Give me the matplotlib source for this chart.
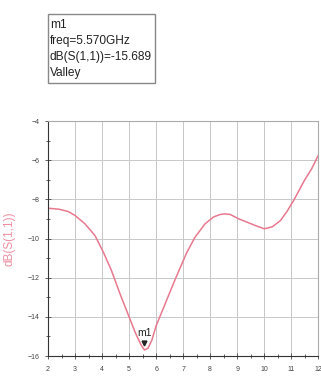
import matplotlib
matplotlib.use("Agg")
import matplotlib.pyplot as plt
from matplotlib.ticker import MultipleLocator
from matplotlib.patches import Rectangle

freq = [2.0, 2.4, 2.75, 3.0, 3.37, 3.74, 4.05, 4.35, 4.67, 5.0, 5.25, 5.45, 5.57,
        5.7, 5.84, 6.0, 6.33, 6.64, 6.95, 7.14, 7.44, 7.81, 8.12, 8.37, 8.55, 8.74,
        9.05, 9.36, 9.7, 10.0, 10.3, 10.6, 10.85, 11.09, 11.5, 11.75, 12.0]
s11_db = [-8.45, -8.5, -8.62, -8.82, -9.25, -9.85, -10.7, -11.64, -12.84, -14.0,
          -14.87, -15.45, -15.69, -15.6, -15.2, -14.46, -13.35, -12.3, -11.3, -10.7,
          -9.93, -9.25, -8.9, -8.77, -8.74, -8.77, -8.99, -9.16, -9.35, -9.5, -9.4,
          -9.08, -8.6, -8.05, -7.0, -6.45, -5.75]

marker_name = "m1"
marker_freq = 5.57
marker_db = -15.689
marker_text = ["m1", "freq=5.570GHz", "dB(S(1,1))=-15.689", "Valley"]

plt.rcParams['font.family'] = ['Liberation Sans', 'DejaVu Sans']

fig = plt.figure(figsize=(3.21, 3.82), dpi=100)
ax = fig.add_axes([0.1495, 0.068, 0.842, 0.615])

line_color = '#e8788e'
ax.plot(freq, s11_db, color=line_color, lw=1.1)

ax.set_xlim(2, 12)
ax.set_ylim(-16, -4)
ax.xaxis.set_major_locator(MultipleLocator(1))
ax.xaxis.set_minor_locator(MultipleLocator(0.5))
ax.yaxis.set_major_locator(MultipleLocator(2))
ax.yaxis.set_minor_locator(MultipleLocator(1))
ax.grid(True, which='major', color='#c8c8c8', lw=0.7)
ax.tick_params(which='both', direction='inout', labelsize=5, colors='#444444',
               length=4, width=0.6)
ax.tick_params(axis='x', which='major', pad=5)
ax.tick_params(axis='y', which='major', pad=4)
ax.tick_params(which='minor', length=3)
for side in ['top', 'right']:
    ax.spines[side].set_color('#aaaaaa')
    ax.spines[side].set_linewidth(0.8)
for side in ['left', 'bottom']:
    ax.spines[side].set_color('#333333')
    ax.spines[side].set_linewidth(0.8)

ax.set_ylabel("dB(S(1,1))", color='#ee8fa0', fontsize=8.5, labelpad=0)
ax.yaxis.set_label_coords(-0.122, 0.5)

# marker
ax.plot([marker_freq], [marker_db + 0.35], marker='v', color='#222222', markersize=3.5)
ax.text(marker_freq, marker_db + 0.6, marker_name, ha='center', va='bottom',
        fontsize=7.5, color='#222222')

# marker readout box
fig.add_artist(Rectangle((48 / 321, 1 - 83 / 382), 107 / 321, 69 / 382,
                         transform=fig.transFigure, fc='white', ec='#888888', lw=1.0))
line_y = [25, 41, 57, 73]
for txt, yy in zip(marker_text, line_y):
    fig.text(50 / 321, 1 - yy / 382, txt, ha='left', va='center', fontsize=8.6,
             color='#222222')

fig.savefig("out.png", dpi=100)
